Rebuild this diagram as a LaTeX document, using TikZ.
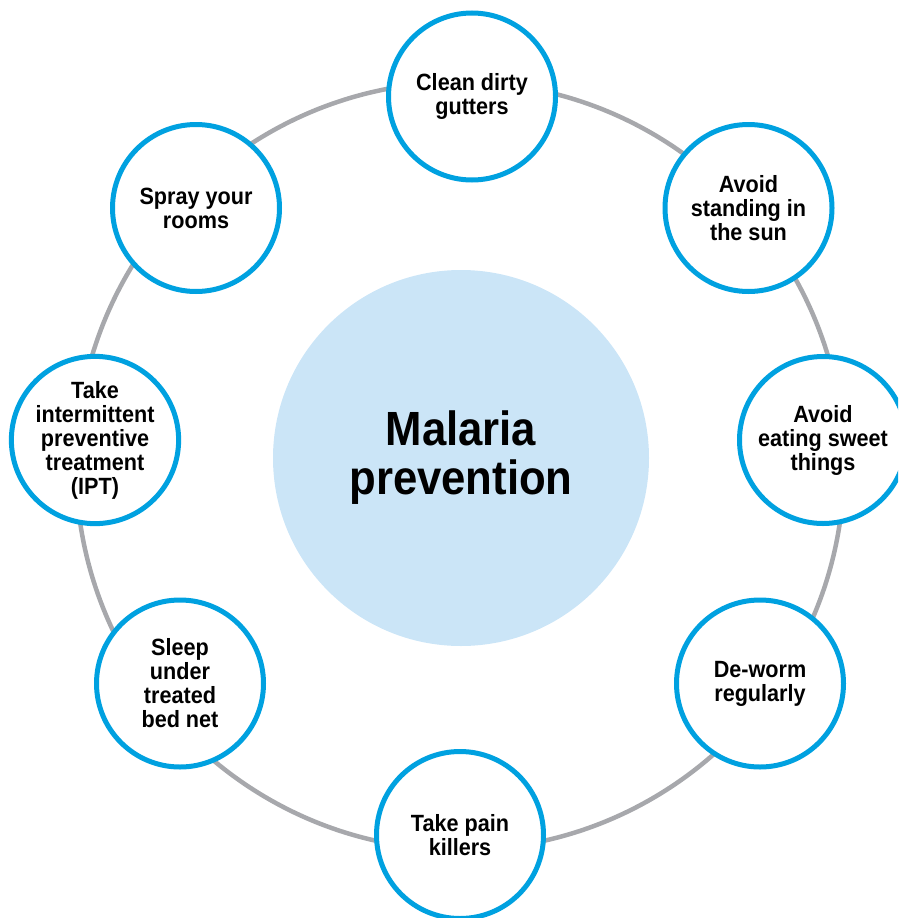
\documentclass[tikz,border=0pt]{standalone}
\usepackage{fontspec}
\setmainfont{Liberation Sans}
\newfontfamily\itemfont{Liberation Sans}[FakeStretch=0.92]
\newfontfamily\hubfont{Liberation Sans}[FakeStretch=0.91]
\definecolor{ringgray}{RGB}{167,168,172}
\definecolor{itemblue}{RGB}{0,161,224}
\definecolor{centerfill}{RGB}{203,229,247}
\begin{document}
\begin{tikzpicture}[x=1pt,y=-1pt,
  item/.style={circle, draw=itemblue, line width=5pt, fill=white,
    minimum size=167pt, inner sep=0pt, align=center,
    font=\itemfont\fontsize{23.5}{24}\selectfont\bfseries},
  hub/.style={circle, fill=centerfill, minimum size=376pt, inner sep=0pt,
    align=center, font=\hubfont\fontsize{48}{49}\selectfont\bfseries},
  ring/.style={draw=ringgray, line width=4.5pt}]
\useasboundingbox (0,0) rectangle (898,918);
\clip (0,0) rectangle (898,918);
\coordinate (rc) at (460,466);
\draw[ring] (rc) circle (384pt);
\node[hub] (hub) at (461,458) {Malaria\\prevention};
\node[item] (clean) at (472,96.5) {Clean dirty\\gutters};
\node[item] (sun) at (748.5,208) {Avoid\\standing in\\the sun};
\node[item] (sweet) at (823,440) {Avoid\\eating sweet\\things};
\node[item] (deworm) at (760,683.5) {De-worm\\regularly};
\node[item] (pain) at (460,835) {Take pain\\killers};
\node[item] (sleep) at (180,683.5) {Sleep\\under\\treated\\bed net};
\node[item] (ipt) at (95,440) {Take\\intermittent\\preventive\\treatment\\(IPT)};
\node[item] (spray) at (196,208) {Spray your\\rooms};
\end{tikzpicture}
\end{document}
